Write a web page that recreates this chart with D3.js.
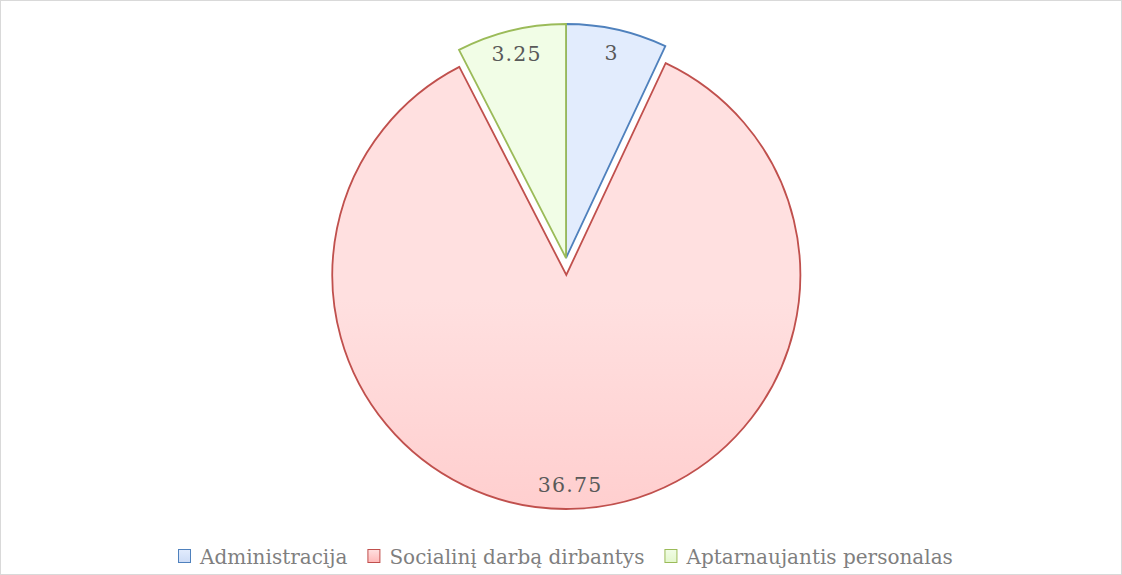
<!DOCTYPE html>
<html><head><meta charset="utf-8">
<script src="https://cdn.jsdelivr.net/npm/d3@7"></script>
<style>body{margin:0;background:#fff}</style>
</head><body>
<svg id="c" width="1122" height="575"></svg>
<script>
const categories = ["Administracija", "Socialinį darbą dirbantys", "Aptarnaujantis personalas"];
const values = [3, 36.75, 3.25];
const labels = ["3", "36.75", "3.25"];
const explode = [0, 17, 0];
const fills = [["#e2ecfd","#cddcf6"],["#ffe0e0","#ffb8b8"],["#f1fde6","#e3f7cc"]];
const strokes = ["#4f81bd","#c0504d","#9bbb59"];

const svg = d3.select("#c");
svg.append("rect").attr("x",0.5).attr("y",0.5).attr("width",1121).attr("height",574)
  .attr("fill","#fff").attr("stroke","#d9d9d9");
const defs = svg.append("defs");
fills.forEach((f,i)=>{
  const g = defs.append("linearGradient").attr("id","g"+i)
    .attr("gradientUnits","userSpaceOnUse").attr("x1",0).attr("y1",24).attr("x2",0).attr("y2",510);
  g.append("stop").attr("offset",0).attr("stop-color",f[0]);
  g.append("stop").attr("offset",1).attr("stop-color",f[1]);
  const gl = defs.append("linearGradient").attr("id","l"+i).attr("x1",0).attr("y1",0).attr("x2",0).attr("y2",1);
  gl.append("stop").attr("offset",0).attr("stop-color",f[0]);
  gl.append("stop").attr("offset",1).attr("stop-color",f[1]);
});
const cx = 566, cy = 258, R = 234;
const pie = d3.pie().sort(null).value(d=>d)(values);
const arc = d3.arc().innerRadius(0).outerRadius(R);
const g = svg.append("g");
pie.forEach((p,i)=>{
  const mid = (p.startAngle+p.endAngle)/2;
  const ox = cx + Math.sin(mid)*explode[i], oy = cy - Math.cos(mid)*explode[i];
  g.append("path").attr("d",arc(p)).attr("transform",`translate(${ox},${oy})`)
    .attr("fill",`url(#g${i})`).attr("stroke",strokes[i]).attr("stroke-width",1.8).attr("stroke-linejoin","miter");
});
pie.forEach((p,i)=>{
  const mid = (p.startAngle+p.endAngle)/2;
  const ox = cx + Math.sin(mid)*explode[i], oy = cy - Math.cos(mid)*explode[i];
  const lr = 210;
  g.append("text").attr("x",ox+Math.sin(mid)*lr).attr("y",oy-Math.cos(mid)*lr)
    .attr("text-anchor","middle").attr("dominant-baseline","central")
    .attr("font-family","DejaVu Serif").attr("font-size",20.5).attr("letter-spacing",1.2)
    .attr("fill","#595959").text(labels[i]);
});
// legend
const lg = svg.append("g").attr("font-family","DejaVu Serif").attr("font-size",20).attr("fill","#7f7f7f");
let x = 178;
categories.forEach((c,i)=>{
  lg.append("rect").attr("x",x+0.5).attr("y",549.5).attr("width",12).attr("height",13)
    .attr("fill",`url(#l${i})`).attr("stroke",strokes[i]);
  const t = lg.append("text").attr("x",x+22).attr("y",557).attr("dominant-baseline","central").text(c);
  const w = t.node().getComputedTextLength();
  x += 22 + w + 20;
});
</script>
</body></html>
